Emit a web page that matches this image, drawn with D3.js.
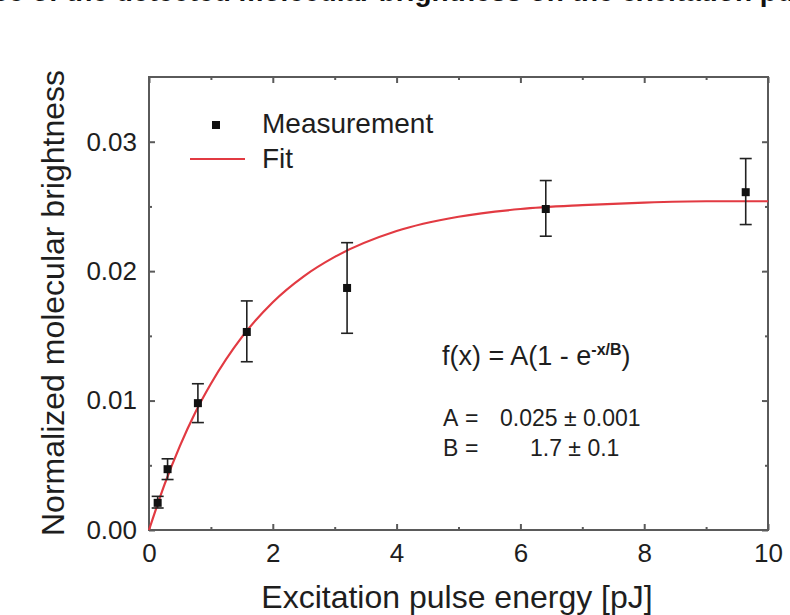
<!DOCTYPE html>
<html><head><meta charset="utf-8">
<script src="https://cdn.jsdelivr.net/npm/d3@7"></script>
<style>body{margin:0;background:#fff;}svg{display:block;font-family:"Liberation Sans",Arial,sans-serif;}</style>
</head><body>
<svg id="c" width="790" height="615"></svg>
<script>
// Measurement data
const energy = [0.14, 0.30, 0.79, 1.58, 3.20, 6.41, 9.64];
const brightness = [0.0021, 0.0047, 0.0098, 0.0153, 0.0187, 0.0248, 0.0261];
const errLow = [0.0017, 0.0039, 0.0083, 0.0130, 0.0152, 0.0227, 0.0236];
const errHigh = [0.0026, 0.0055, 0.0113, 0.0177, 0.0222, 0.0270, 0.0287];
// Fit curve
const fitX = [0, 0.25, 0.5, 0.75, 1, 1.5, 2, 2.5, 3, 4, 5, 6, 7, 8, 9, 10];
const fitY = [0, 0.0035, 0.0065, 0.0091, 0.0113, 0.0149, 0.0176, 0.0196, 0.0211, 0.0231, 0.0242, 0.0248, 0.0251, 0.0253, 0.0254, 0.0254];
const xTicks = [0, 2, 4, 6, 8, 10];
const yTicks = [0, 0.01, 0.02, 0.03];

const svg = d3.select("#c");
const L = 149, R = 768, T = 77, B = 530;
const x = d3.scaleLinear().domain([0, 10]).range([L, R]);
const y = d3.scaleLinear().domain([0, 0.035]).range([B, T]);
const axisCol = "#5a5a5a";
const txt = "#1e1e1e";
const red = "#e23a42";

// title (cut off at top, as in the reference)
svg.append("text").attr("x", 395).attr("y", 1).attr("text-anchor", "middle")
  .attr("font-weight", "bold").attr("font-size", 28).attr("fill", "#111")
  .text("Dependence of the detected molecular brightness on the excitation pulse energy");

// axes with inward ticks
const minorX = d3.range(1, 10, 2);
const minorY = [0.005, 0.015, 0.025];
function drawAxis(gen, tr, majors, minors, fmt) {
  const g = svg.append("g").attr("transform", tr);
  g.call(gen(majors).tickValues(majors).tickSizeInner(-6).tickSizeOuter(0).tickFormat(fmt));
  g.call(s => s.select(".domain").remove());
  const gm = svg.append("g").attr("transform", tr);
  gm.call(gen(minors).tickValues(minors).tickSizeInner(-3).tickSizeOuter(0).tickFormat(""));
  gm.select(".domain").remove();
  [g, gm].forEach(a => a.selectAll("line").attr("stroke", axisCol).attr("stroke-width", 2));
  return g;
}
const xb = drawAxis(s => d3.axisBottom(x), `translate(0,${B})`, xTicks, minorX, d3.format("d"));
xb.selectAll("text").attr("font-size", 26).attr("fill", txt).attr("y", 14);
drawAxis(s => d3.axisTop(x), `translate(0,${T})`, xTicks, minorX, "");
const yl = drawAxis(s => d3.axisLeft(y), `translate(${L},0)`, yTicks, minorY, d3.format(".2f"));
yl.selectAll("text").attr("font-size", 26).attr("fill", txt).attr("x", -12);
drawAxis(s => d3.axisRight(y), `translate(${R},0)`, yTicks, minorY, "");

svg.append("rect").attr("x", L).attr("y", T).attr("width", R - L).attr("height", B - T)
  .attr("fill", "none").attr("stroke", axisCol).attr("stroke-width", 2);

// fit line
const line = d3.line().x((d, i) => x(fitX[i])).y(d => y(d)).curve(d3.curveMonotoneX);
svg.append("path").attr("d", line(fitY)).attr("fill", "none").attr("stroke", red).attr("stroke-width", 2.2);

// error bars & points
const pts = energy.map((e, i) => ({e, v: brightness[i], lo: errLow[i], hi: errHigh[i]}));
const eg = svg.append("g").attr("stroke", "#222").attr("stroke-width", 1.6);
pts.forEach(p => {
  eg.append("line").attr("x1", x(p.e)).attr("x2", x(p.e)).attr("y1", y(p.lo)).attr("y2", y(p.hi));
  eg.append("line").attr("x1", x(p.e) - 6).attr("x2", x(p.e) + 6).attr("y1", y(p.lo)).attr("y2", y(p.lo));
  eg.append("line").attr("x1", x(p.e) - 6).attr("x2", x(p.e) + 6).attr("y1", y(p.hi)).attr("y2", y(p.hi));
});
svg.append("g").selectAll("rect").data(pts).join("rect")
  .attr("x", d => x(d.e) - 4).attr("y", d => y(d.v) - 4).attr("width", 8).attr("height", 8).attr("fill", "#111");

// legend
svg.append("rect").attr("x", 212).attr("y", 121).attr("width", 8).attr("height", 8).attr("fill", "#111");
svg.append("text").attr("x", 262).attr("y", 133).attr("font-size", 28).attr("fill", txt).text("Measurement");
svg.append("line").attr("x1", 190).attr("x2", 245).attr("y1", 159).attr("y2", 159).attr("stroke", red).attr("stroke-width", 2.2);
svg.append("text").attr("x", 262).attr("y", 168).attr("font-size", 28).attr("fill", txt).text("Fit");

// annotation
const f = svg.append("text").attr("x", 442).attr("y", 365).attr("font-size", 27).attr("fill", txt);
f.append("tspan").text("f(x) = A(1 - e");
f.append("tspan").attr("dy", -10).attr("font-size", 16).attr("font-weight", "bold").text("-x/B");
f.append("tspan").attr("dy", 10).text(")");
const par = [["A", "0.025 \u00b1 0.001", 500, 426], ["B", "1.7 \u00b1 0.1", 530, 456]];
par.forEach(([n, v, vx, by]) => {
  svg.append("text").attr("x", 443).attr("y", by).attr("font-size", 23).attr("fill", txt).text(n);
  svg.append("text").attr("x", 465).attr("y", by).attr("font-size", 23).attr("fill", txt).text("=");
  svg.append("text").attr("x", vx).attr("y", by).attr("font-size", 23).attr("fill", txt).text(v);
});

// axis titles
svg.append("text").attr("x", 457).attr("y", 608).attr("text-anchor", "middle").attr("font-size", 32).attr("fill", txt)
  .text("Excitation pulse energy [pJ]");
svg.append("text").attr("transform", "translate(64,303) rotate(-90)").attr("text-anchor", "middle").attr("font-size", 32).attr("fill", txt)
  .text("Normalized molecular brightness");
</script>
</body></html>
